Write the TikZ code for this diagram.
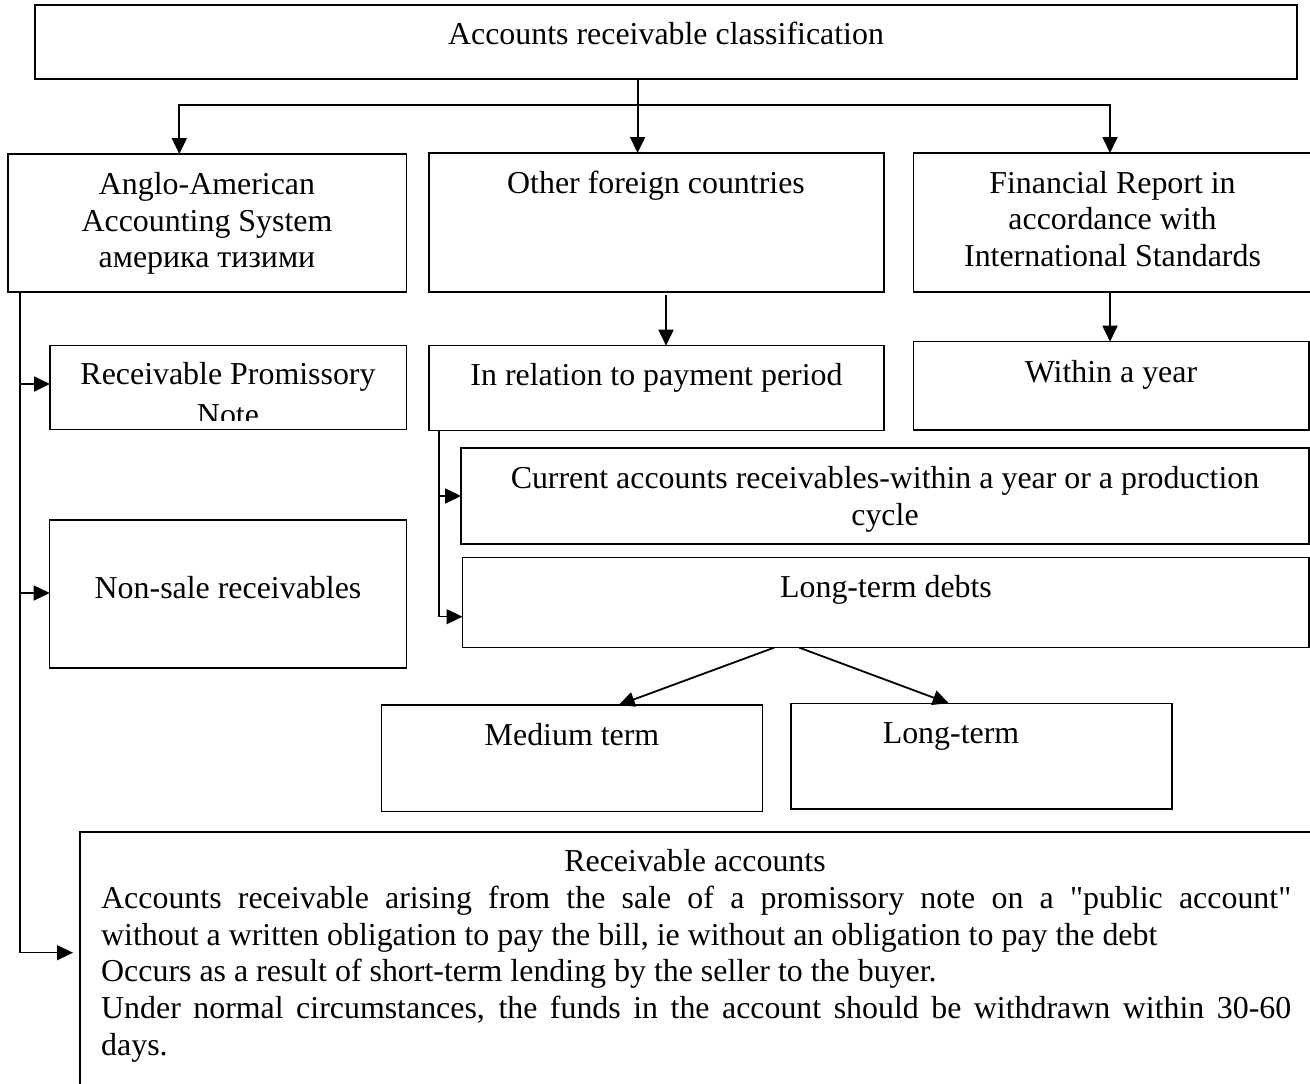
\documentclass[tikz,border=0pt]{standalone}
\usepackage{fontspec}
\newfontfamily\tnr{Liberation Serif}
\usetikzlibrary{arrows.meta,fit}
\begin{document}
\begin{tikzpicture}[x=1pt,y=-1pt,
  box/.style={draw=black, line width=1.3pt, inner sep=0pt, outer sep=0pt},
  lbl/.style={anchor=base, inner sep=0pt, font=\tnr\fontsize{31.9}{36.7}\selectfont},
  conn/.style={line width=1.8pt, line join=miter, -{Triangle[length=16pt,width=15pt]}},
  thinconn/.style={line width=1.4pt, line join=miter, -{Triangle[length=16pt,width=15pt]}}]
\useasboundingbox (0,0) rectangle (1310,1084);
\clip (0,0) rectangle (1310,1084);
% boxes
\node[box, fit={(35,5) (1297,79)}] (top) {};
\node[box, fit={(8,154) (406.6,292)}] (anglo) {};
\node[box, fit={(429,153) (884,292)}] (other) {};
\node[box, fit={(913.5,153) (1313,292)}] (fin) {};
\node[box, fit={(50,345.7) (406.6,429.5)}] (prom) {};
\node[box, fit={(429,345.7) (884,430.5)}] (inrel) {};
\node[box, fit={(913.5,341.7) (1309,430)}] (within) {};
\node[box, fit={(461,448) (1309,544)}] (cur) {};
\node[box, fit={(462.5,557.7) (1309,647.7)}] (ld) {};
\node[box, fit={(49.7,520) (406.6,668)}] (nons) {};
\node[box, fit={(381.7,705) (762.4,811.7)}] (medium) {};
\node[box, fit={(791,703.3) (1171.9,809)}] (longt) {};
\node[box, fit={(80,832) (1340,1120)}] (bottom) {};
% texts
\node[lbl] (ttop) at (666,44) {Accounts receivable classification};
\node[lbl] (ta1) at (207,194.5) {Anglo-American};
\node[lbl] (ta2) at (207,231) {Accounting System};
\node[lbl] (ta3) at (207,267.5) {америка тизими};
\node[lbl] (tother) at (656,193) {Other foreign countries};
\node[lbl] (tf1) at (1112.5,193) {Financial Report in};
\node[lbl] (tf2) at (1112.5,229.7) {accordance with};
\node[lbl] (tf3) at (1112.5,266.4) {International Standards};
\node[lbl] (tp1) at (228,384) {Receivable Promissory};
\begin{scope}
\clip (50,395) rectangle (406.6,420.5);
\node[lbl] (tp2) at (228,425.5) {Note};
\end{scope}
\node[lbl] (tinrel) at (656.5,385) {In relation to payment period};
\node[lbl] (twithin) at (1111,382) {Within a year};
\node[lbl] (tc1) at (885,488) {Current accounts receivables-within a year or a production};
\node[lbl] (tc2) at (885,525) {cycle};
\node[lbl] (tld) at (886,597) {Long-term debts};
\node[lbl] (tnons) at (228,598) {Non-sale receivables};
\node[lbl] (tmed) at (572,745) {Medium term};
\node[lbl] (tlong) at (951,743) {Long-term};
\node[lbl] (tb0) at (695,871.7) {Receivable accounts};
\node[lbl, anchor=base west] (tb1) at (101,908.4) {\hbox to 1190pt{Accounts receivable arising from the sale of a promissory note on a "public account"}};
\node[lbl, anchor=base west] (tb2) at (101,945.1) {without a written obligation to pay the bill, ie without an obligation to pay the debt};
\node[lbl, anchor=base west] (tb3) at (101,981.8) {Occurs as a result of short-term lending by the seller to the buyer.};
\node[lbl, anchor=base west] (tb4) at (101,1018.5) {\hbox to 1190pt{Under normal circumstances, the funds in the account should be withdrawn within 30-60}};
\node[lbl, anchor=base west] (tb5) at (101,1055.2) {days.};
% connectors from the top
\coordinate (tj) at (637.6,104.7);
\coordinate (hl) at (179.3,104.7);
\coordinate (hr) at (1110,104.7);
\draw[conn] (top.south -| tj) -- (other.north -| tj);
\draw[conn] (hr) -| (anglo.north -| hl);
\draw[conn] (hl) -| (fin.north -| hr);
% second level
\coordinate (oa) at (666,295);
\draw[conn] (oa) -- (inrel.north -| oa);
\draw[conn] (fin.south -| hr) -- (within.north -| hr);
% Anglo-American branch
\coordinate (av) at (20,952.7);
\coordinate (bt) at (73,952.7);
\coordinate (pa) at (20,384);
\coordinate (na) at (20,593);
\draw[thinconn] (anglo.south -| av) -- (av) -- (bt);
\draw[conn] (pa) -- (pa -| prom.west);
\draw[conn] (na) -- (na -| nons.west);
% payment period branch
\coordinate (iv) at (439,616.7);
\coordinate (ca) at (439,496);
\draw[thinconn] (inrel.south -| iv) |- (iv -| ld.west);
\draw[conn] (ca) -- (ca -| cur.west);
% long-term debts split
\coordinate (d1) at (774,0);
\coordinate (d2) at (799.4,0);
\coordinate (m1) at (618.7,0);
\coordinate (l1) at (948.8,0);
\draw[conn] (ld.south -| d1) -- (medium.north -| m1);
\draw[conn] (ld.south -| d2) -- (longt.north -| l1);
\end{tikzpicture}
\end{document}
